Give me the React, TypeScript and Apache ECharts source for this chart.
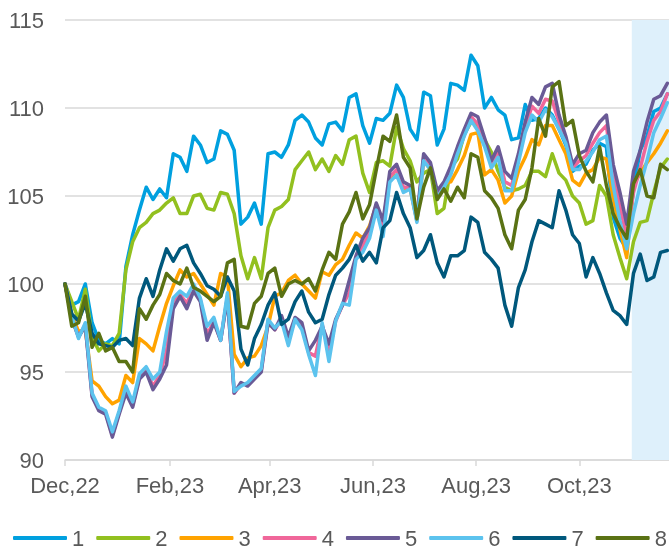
import React, { useEffect, useRef } from 'react';
import * as echarts from 'echarts';

const seriesNames = ['1', '2', '3', '4', '5', '6', '7', '8'];
const seriesColors = ['#00A0DF', '#92C01F', '#FFA300', '#F0679A', '#6A5A96', '#5CC3EE', '#00587C', '#5A7214'];

// days since start (Dec 30, 2022) of each observation
const stepDays = 4;

const s1 = [
  100, 98.8, 99.0, 100.0, 97.8, 96.8, 96.6, 96.9, 96.6, 101.0,
  102.8, 104.2, 105.5, 104.8, 105.4, 104.9, 107.4, 107.2, 106.4, 108.4,
  107.9, 106.9, 107.1, 108.7, 108.5, 107.6, 103.4, 103.8, 104.6, 103.4,
  107.4, 107.5, 107.2, 107.9, 109.3, 109.6, 109.2, 108.3, 107.9, 109.1,
  109.2, 108.7, 110.6, 110.8, 109.0, 108.0, 109.4, 109.3, 109.7, 111.3,
  110.6, 108.8, 108.2, 110.9, 110.7, 107.9, 108.8, 111.4, 111.3, 111.0,
  113.0, 112.4, 110.0, 110.6, 109.9, 109.6, 108.2, 108.3, 110.2, 109.3,
  109.4, 110.0, 109.6, 108.8, 107.9, 106.4, 106.7, 106.8, 107.6, 108.0,
  107.8, 103.8, 102.6, 102.0, 105.4, 107.6, 108.4, 109.8, 110.0, 110.8,
];
const s2 = [
  100, 99.0, 98.0, 99.7, 97.0, 96.2, 96.6, 96.5, 97.2, 100.8,
  102.4, 103.2, 103.5, 104.0, 104.2, 104.6, 104.9, 104.0, 104.0, 105.0,
  105.1, 104.3, 104.2, 105.2, 105.1, 104.0, 101.6, 100.3, 101.5, 100.3,
  103.2, 104.2, 104.4, 104.8, 106.5, 107.0, 107.5, 106.5, 107.1, 106.4,
  107.3, 106.8, 108.2, 108.4, 106.3, 105.2, 106.9, 107.0, 106.7, 108.9,
  107.7, 107.0, 105.8, 106.3, 106.5, 104.0, 104.3, 106.6, 107.1, 108.5,
  109.2, 109.0, 108.2, 107.5, 106.4, 105.5, 105.3, 105.4, 105.6, 106.4,
  106.4, 106.1, 107.4, 106.3, 105.9, 105.0, 104.6, 103.4, 103.6, 105.6,
  105.0, 102.8, 101.5, 100.3, 102.4, 103.5, 103.6, 105.2, 106.6, 107.1,
];
const s3 = [
  100, 98.3, 97.3, 97.4, 94.5, 94.2, 93.6, 93.2, 93.4, 94.8,
  94.4, 96.9, 96.6, 96.2, 97.6, 98.9, 99.9, 100.8, 100.4, 100.6,
  100.0, 99.4, 98.8, 100.6, 100.4, 96.0, 95.3, 95.8, 95.9, 96.5,
  97.6, 99.3, 99.5, 100.2, 100.5, 100.0, 99.6, 99.2, 100.7, 100.5,
  101.1, 101.4, 102.2, 102.9, 102.6, 103.3, 104.5, 103.4, 106.1, 106.2,
  105.4, 105.4, 103.6, 107.0, 106.5, 105.0, 105.7, 105.8, 106.5, 107.3,
  108.5, 108.6, 106.2, 106.5, 105.9, 104.6, 105.0, 106.4, 107.2, 108.2,
  107.9, 109.0, 109.0, 108.2, 107.4, 105.9, 105.6, 106.3, 106.5, 107.2,
  107.1, 104.9, 103.1, 101.5, 105.6, 106.3, 106.9, 107.4, 108.0, 108.7,
];
const s4 = [
  100, 98.1, 97.0, 97.7, 93.7, 92.9, 92.7, 91.4, 92.7, 94.0,
  93.1, 94.7, 95.1, 94.2, 94.8, 96.2, 98.9, 99.4, 98.9, 99.8,
  99.1, 97.1, 97.9, 96.8, 99.3, 93.8, 94.3, 94.3, 94.7, 95.1,
  97.9, 97.4, 98.0, 96.8, 98.0, 97.6, 96.1, 95.9, 97.7, 96.1,
  97.9, 98.8, 99.5, 101.5, 102.2, 102.9, 104.4, 103.2, 106.1, 106.5,
  105.5, 105.5, 103.6, 107.2, 106.7, 105.1, 105.6, 106.4, 107.6, 108.6,
  109.5, 109.1, 108.0, 106.8, 107.5, 105.8, 105.6, 107.1, 108.9, 110.1,
  109.7, 110.5, 110.4, 109.2, 108.2, 106.6, 107.0, 107.3, 108.0, 108.6,
  109.0, 106.2, 104.4, 102.7, 105.2, 106.6, 108.1, 109.3, 109.8, 110.8,
];
const s5 = [
  100, 98.0, 97.0, 97.6, 93.6, 92.8, 92.6, 91.3, 92.6, 93.8,
  93.0, 94.6, 95.0, 94.0, 94.6, 95.4, 98.6, 99.3, 98.6, 99.6,
  99.0, 96.8, 97.8, 96.8, 99.2, 93.8, 94.4, 94.2, 94.6, 95.0,
  97.8, 97.4, 98.2, 97.0, 98.1, 97.8, 96.2, 96.8, 97.6, 96.6,
  98.0, 98.8, 100.2, 101.6, 102.6, 103.2, 104.6, 103.6, 106.4, 106.8,
  105.8, 105.6, 103.8, 107.4, 106.9, 105.3, 105.8, 106.7, 107.8, 108.8,
  109.7, 109.5, 108.3, 107.0, 107.8, 106.4, 106.0, 107.4, 109.2, 110.6,
  110.2, 111.2, 111.4, 109.6, 108.4, 106.8, 107.4, 107.6, 108.6, 109.2,
  109.6, 106.8, 105.2, 103.4, 106.4, 107.6, 109.2, 110.5, 110.7, 111.4,
];
const s6 = [
  100, 98.2, 96.9, 97.8, 93.8, 93.0, 92.8, 91.6, 92.8, 94.2,
  93.3, 94.9, 95.3, 94.6, 95.0, 97.3, 99.2, 99.6, 99.3, 100.0,
  99.2, 97.6, 98.1, 96.8, 99.5, 93.9, 94.2, 94.4, 94.8, 95.2,
  98.0, 97.5, 97.9, 96.5, 98.0, 97.4, 96.0, 94.8, 97.8, 95.6,
  97.9, 98.9, 98.8, 101.4, 101.8, 102.6, 104.2, 102.7, 105.8, 106.2,
  105.2, 105.4, 103.5, 107.0, 106.5, 104.9, 105.5, 106.2, 107.4, 108.4,
  109.3, 108.7, 107.8, 106.6, 107.2, 105.3, 105.3, 106.9, 108.6, 109.6,
  109.2, 109.9, 109.5, 108.8, 108.0, 106.5, 106.5, 107.0, 107.5, 108.2,
  108.4, 105.6, 103.6, 102.0, 104.0, 105.6, 107.0, 108.6, 109.4, 110.3,
];
const s7 = [
  100, 98.3, 97.9, 98.9, 97.2, 96.6, 96.5, 96.4, 96.8, 96.9,
  96.5, 99.2, 100.3, 99.3, 100.8, 102.0, 101.3, 102.0, 102.2, 101.2,
  100.6, 99.9, 99.7, 99.3, 100.4, 99.6, 96.3, 95.4, 96.9, 97.7,
  98.8, 99.5, 97.7, 98.0, 99.0, 99.6, 98.4, 97.8, 98.0, 99.4,
  100.5, 100.9, 101.4, 102.2, 101.3, 101.8, 101.2, 103.2, 103.6, 105.2,
  104.0, 103.2, 101.5, 101.9, 102.8, 101.2, 100.4, 101.6, 101.6, 101.9,
  103.8, 103.5, 101.8, 101.4, 100.9, 98.8, 97.6, 99.8, 100.8, 102.4,
  103.6, 103.4, 103.2, 105.3, 104.2, 102.8, 102.3, 100.4, 101.5, 100.6,
  99.5, 98.5, 98.2, 97.7, 100.6, 101.7, 100.2, 100.4, 101.8, 101.9,
];
const s8 = [
  100, 97.6, 97.8, 99.3, 96.4, 97.2, 96.2, 96.4, 95.6, 95.6,
  95.0, 98.6, 98.0, 98.8, 99.4, 100.6, 100.2, 100.0, 100.9, 99.8,
  99.6, 99.3, 99.0, 99.3, 101.2, 101.4, 97.6, 97.5, 98.9, 99.3,
  100.6, 100.9, 99.3, 100.0, 100.2, 100.0, 100.3, 99.6, 100.8, 101.8,
  101.4, 103.4, 104.1, 105.2, 103.7, 104.5, 106.5, 108.4, 108.1, 109.6,
  107.2, 106.6, 103.7, 105.5, 106.6, 104.8, 105.4, 104.7, 105.5, 104.9,
  107.4, 107.2, 105.3, 104.9, 104.3, 102.8, 102.0, 104.2, 104.8, 106.6,
  109.4, 108.4, 111.2, 111.5, 109.0, 109.3, 107.3, 106.4, 105.8, 107.8,
  105.6, 104.0, 103.2, 102.6, 105.7, 106.5, 105.0, 104.9, 106.8, 106.5,
];

const allSeries = [s1, s2, s3, s4, s5, s6, s7, s8];

// x-axis ticks (days since start) and their labels
const tickDays = [0, 62, 121, 182, 243, 304];
const tickLabels = ['Dec,22', 'Feb,23', 'Apr,23', 'Jun,23', 'Aug,23', 'Oct,23'];
const xMaxDay = 357;
// shaded period
const shadeStartDay = 335;
const shadeEndDay = 357;

const FONT = '"Liberation Sans", Arial, Helvetica, sans-serif';
const TEXT_COLOR = '#595959';
const GRID_COLOR = '#D9D9D9';

export default function App() {
  const ref = useRef<HTMLDivElement>(null);

  useEffect(() => {
    document.body.style.margin = '0';
    if (!ref.current) return;
    const chart = echarts.init(ref.current, null, { renderer: 'svg' });

    const series = allSeries.map((vals, k) => {
      const s: any = {
        name: seriesNames[k],
        type: 'line',
        data: vals.map((v, i) => [i * stepDays, v]),
        showSymbol: false,
        symbol: 'none',
        lineStyle: { width: 3.5, color: seriesColors[k], cap: 'round', join: 'round' },
        itemStyle: { color: seriesColors[k] },
        emphasis: { disabled: true },
        z: 2,
      };
      if (k === 0) {
        s.markArea = {
          silent: true,
          itemStyle: { color: '#DEF0FB' },
          data: [[{ xAxis: shadeStartDay }, { xAxis: shadeEndDay }]],
        };
      }
      return s;
    });

    chart.setOption({
      animation: false,
      textStyle: { fontFamily: FONT },
      grid: { left: 65, right: 0, top: 20, bottom: 90, containLabel: false },
      xAxis: {
        type: 'value',
        min: 0,
        max: xMaxDay,
        axisLine: { show: true, lineStyle: { color: GRID_COLOR, width: 1.5 } },
        axisTick: {
          show: true,
          customValues: tickDays,
          length: 6,
          lineStyle: { color: GRID_COLOR, width: 1.5 },
        },
        axisLabel: {
          customValues: tickDays,
          formatter: (v: number) => {
            const idx = tickDays.indexOf(Math.round(v));
            return idx >= 0 ? tickLabels[idx] : '';
          },
          color: TEXT_COLOR,
          fontSize: 22,
          fontFamily: FONT,
          margin: 14,
        },
        splitLine: { show: false },
      },
      yAxis: {
        type: 'value',
        min: 90,
        max: 115,
        interval: 5,
        axisLine: { show: false },
        axisTick: { show: false },
        axisLabel: { color: TEXT_COLOR, fontSize: 22, fontFamily: FONT, margin: 21 },
        splitLine: { show: true, lineStyle: { color: GRID_COLOR, width: 1.5 } },
      },
      legend: {
        data: seriesNames,
        left: 13,
        top: 527,
        padding: 0,
        icon: 'roundRect',
        itemWidth: 54,
        itemHeight: 4,
        itemGap: 12,
        textStyle: { color: TEXT_COLOR, fontSize: 22, fontFamily: FONT },
        selectedMode: false,
      },
      series,
    });

    return () => {
      chart.dispose();
    };
  }, []);

  return (
    <div
      ref={ref}
      style={{ position: 'fixed', left: 0, top: 0, width: 669, height: 550 }}
    />
  );
}
